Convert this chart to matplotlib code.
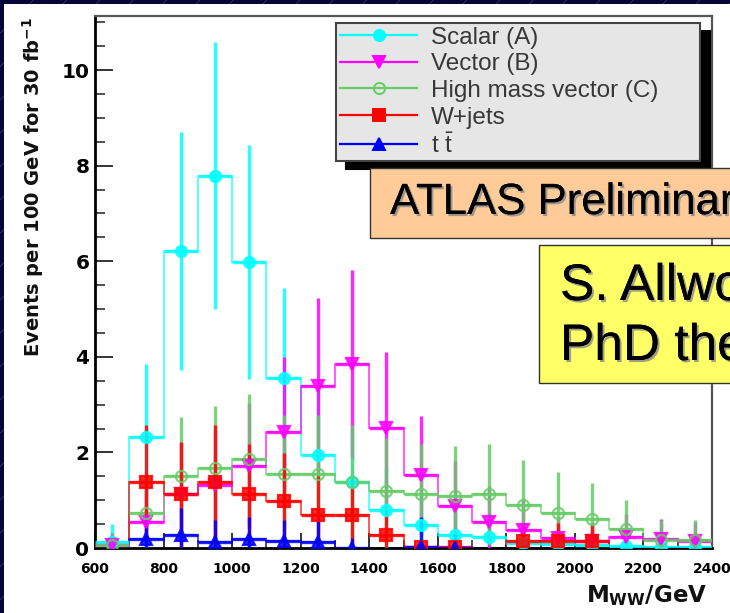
"""ATLAS M_WW distributions (scalar / vector / high mass vector / W+jets / ttbar)."""

import matplotlib
matplotlib.use("Agg")
import matplotlib.pyplot as plt
import matplotlib.patheffects as pe
import numpy as np
from matplotlib.lines import Line2D
from matplotlib.patches import Rectangle
from matplotlib.ticker import MultipleLocator

# ---------------------------------------------------------------------------
# Data (18 bins of 100 GeV, 600-2400 GeV)
# ---------------------------------------------------------------------------
bin_edges = np.arange(600, 2401, 100)

scalar_vals = [0.12, 2.33, 6.22, 7.79, 5.98, 3.56, 1.95, 1.39, 0.79, 0.48,
               0.27, 0.24, 0.10, 0.08, 0.06, 0.04, 0.03, 0.02]
scalar_errs = [0.38, 1.52, 2.49, 2.79, 2.45, 1.88, 1.40, 1.18, 0.89, 0.69,
               0.52, 0.49, 0.32, 0.28, 0.24, 0.20, 0.17, 0.14]

vector_vals = [0.06, 0.55, 1.13, 1.32, 1.72, 2.43, 3.38, 3.85, 2.52, 1.53,
               0.88, 0.55, 0.38, 0.20, 0.15, 0.23, 0.18, 0.15]
vector_errs = [0.25, 0.74, 1.07, 1.15, 1.31, 1.56, 1.84, 1.96, 1.59, 1.24,
               0.94, 0.74, 0.62, 0.45, 0.39, 0.48, 0.42, 0.39]

hmv_vals = [0.06, 0.73, 1.51, 1.68, 1.86, 1.55, 1.55, 1.39, 1.20, 1.12,
            1.09, 1.12, 0.90, 0.73, 0.60, 0.39, 0.17, 0.17]
hmv_errs = [0.25, 0.85, 1.23, 1.30, 1.36, 1.24, 1.24, 1.18, 1.10, 1.06,
            1.04, 1.06, 0.95, 0.85, 0.77, 0.62, 0.41, 0.41]

wjets_vals = [0.00, 1.39, 1.12, 1.39, 1.12, 0.98, 0.68, 0.68, 0.27, 0.02,
              0.02, 0.00, 0.15, 0.15, 0.15, 0.00, 0.00, 0.00]
wjets_errs = [0.00, 1.18, 1.10, 1.18, 1.05, 1.00, 0.82, 0.82, 0.52, 0.10,
              0.10, 0.00, 0.30, 0.37, 0.33, 0.00, 0.00, 0.00]

ttbar_vals = [0.00, 0.18, 0.27, 0.13, 0.18, 0.15, 0.13, 0.00, 0.00, 0.02,
              0.00, 0.00, 0.00, 0.00, 0.00, 0.00, 0.00, 0.00]
ttbar_errs = [0.00, 0.47, 0.56, 0.45, 0.47, 0.43, 0.45, 0.20, 0.00, 0.63,
              0.30, 0.00, 0.00, 0.00, 0.00, 0.00, 0.00, 0.00]

series = [
    # label, values, errors, colour, marker, marker face
    ("Scalar (A)", scalar_vals, scalar_errs, "#00ffff", "o", "#00ffff"),
    ("Vector (B)", vector_vals, vector_errs, "#ff00ff", "v", "#ff00ff"),
    ("High mass vector (C)", hmv_vals, hmv_errs, "#66cc66", "o", "none"),
    ("W+jets", wjets_vals, wjets_errs, "#ff0000", "s", "#ff0000"),
    (r"t $\bar{\mathrm{t}}$", ttbar_vals, ttbar_errs, "#0000ff", "^", "#0000ff"),
]

# ---------------------------------------------------------------------------
# Layout (pixel positions on a 730x613 canvas)
# ---------------------------------------------------------------------------
W, H = 730, 613


def fx(x):
    return x / W


def fy(y):
    return 1 - y / H


plt.rcParams["mathtext.fontset"] = "custom"
plt.rcParams["mathtext.rm"] = "Liberation Sans"
plt.rcParams["mathtext.bf"] = "DejaVu Sans:bold"
plt.rcParams["hatch.linewidth"] = 0.6

fig = plt.figure(figsize=(W / 100, H / 100), dpi=100, facecolor="#05053a")

# slide background with diagonal lines, and the white pad of the plot
fig.add_artist(Rectangle((0, 0), 1, 1, transform=fig.transFigure,
                         facecolor="#05053a", edgecolor="#34346e",
                         hatch="/", lw=0, zorder=-3))
fig.add_artist(Rectangle((fx(4), 0), 1 - fx(4), fy(4), transform=fig.transFigure,
                         facecolor="white", lw=0, zorder=-2))

ax = fig.add_axes([fx(95), fy(548), (712 - 95) / W, (548 - 16) / H])
ax.set_facecolor("white")

centers = 0.5 * (bin_edges[:-1] + bin_edges[1:])
for label, vals, errs, color, marker, face in series:
    vals = np.array(vals)
    errs = np.array(errs)
    ax.stairs(vals, bin_edges, baseline=0, color=color, lw=1.3, alpha=0.7, zorder=2)
    keep = errs > 0
    ax.errorbar(centers[keep], vals[keep], xerr=50, yerr=errs[keep],
                fmt=marker, color=color, mfc=face, mec=color, mew=1.6,
                ms=8, elinewidth=2.4, capsize=0, alpha=0.85, zorder=3)

ax.set_xlim(600, 2400)
ax.set_ylim(0, 11.13)
ax.set_xticks(np.arange(600, 2401, 200))
ax.xaxis.set_minor_locator(MultipleLocator(50))
ax.set_yticks(np.arange(0, 11, 2))
ax.yaxis.set_minor_locator(MultipleLocator(0.5))

ax.tick_params(axis="y", which="major", direction="in", length=13, width=1.4,
               color="#333333", pad=4, labelsize=14.5)
ax.tick_params(axis="y", which="minor", direction="in", length=7, width=1.2,
               color="#333333")
ax.tick_params(axis="x", which="major", direction="in", length=11, width=1.4,
               color="#333333", pad=10, labelsize=10)
ax.tick_params(axis="x", which="minor", direction="in", length=6, width=1.2,
               color="#333333")
for lab in ax.get_xticklabels() + ax.get_yticklabels():
    lab.set_fontfamily("DejaVu Sans")
    lab.set_fontweight("bold")

for side in ("left", "bottom"):
    ax.spines[side].set_linewidth(2)
    ax.spines[side].set_color("black")
for side in ("top", "right"):
    ax.spines[side].set_linewidth(1.6)
    ax.spines[side].set_color("#555555")

# axis titles
fig.text(fx(33), fy(17), r"Events per 100 GeV for 30 fb$^{\mathbf{-1}}$",
         rotation=90, ha="center", va="top", fontsize=14,
         fontweight="bold", family="DejaVu Sans", color="#111111")
fig.text(fx(707), fy(596), r"$\mathbf{M}_{\mathbf{WW}}$/GeV", ha="right",
         va="center", fontsize=16.5, fontweight="bold", family="DejaVu Sans",
         color="#111111")

# legend
handles = [Line2D([], [], color=c, marker=m, mfc=f, mec=c, mew=1.4, ms=8, lw=1.6)
           for _, _, _, c, m, f in series]
labels = [s[0] for s in series]
leg = ax.legend(handles, labels, loc="upper left", mode="expand",
                bbox_to_anchor=(fx(336), fy(157), (700 - 336) / W, (157 - 23) / H),
                bbox_transform=fig.transFigure, borderaxespad=0,
                fancybox=False, framealpha=1, facecolor="#e6e6e6",
                edgecolor="#444444", handlelength=3.2,
                handletextpad=0.55, labelspacing=0.19, borderpad=0.15,
                prop={"family": "Liberation Sans", "size": 17.5},
                shadow={"color": "black", "alpha": 1, "ox": 7.5, "oy": -5.5})
leg.get_frame().set_linewidth(1.5)
for t in leg.get_texts():
    t.set_color("#383838")

# slide annotations
shadow_fx = [pe.withSimplePatchShadow(offset=(1.5, -1.5), shadow_rgbFace="#888888",
                                      alpha=0.8), pe.Normal()]
fig.add_artist(Rectangle((fx(370), fy(238)), 1, (238 - 168) / H,
                         transform=fig.transFigure, facecolor="#ffcc99",
                         edgecolor="#333333", lw=1, zorder=10))
fig.text(fx(390), fy(214), "ATLAS Preliminary", fontsize=31.5,
         family="Liberation Sans", color="black", va="baseline",
         zorder=11, path_effects=shadow_fx)

fig.add_artist(Rectangle((fx(539), fy(383)), 1, (383 - 245) / H,
                         transform=fig.transFigure, facecolor="#ffff66",
                         edgecolor="#333333", lw=1, zorder=10))
fig.text(fx(560), fy(300), "S. Allwood-Spiers", fontsize=37,
         family="Liberation Sans", color="black", va="baseline",
         zorder=11, path_effects=shadow_fx)
fig.text(fx(560), fy(360), "PhD thesis", fontsize=37,
         family="Liberation Sans", color="black", va="baseline",
         zorder=11, path_effects=shadow_fx)

fig.savefig("out.png", dpi=100, facecolor=fig.get_facecolor())
